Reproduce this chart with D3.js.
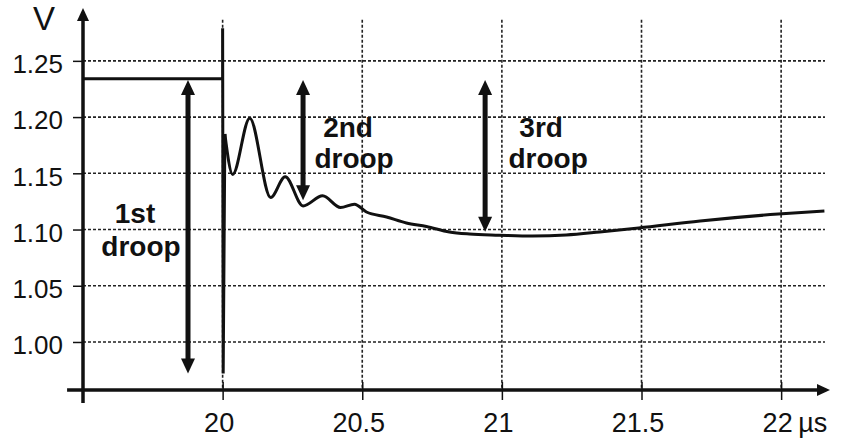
<!DOCTYPE html>
<html>
<head>
<meta charset="utf-8">
<script src="https://cdn.jsdelivr.net/npm/d3@7"></script>
<style>
  html, body { margin: 0; padding: 0; background: #fff; }
  svg { display: block; font-family: "Liberation Sans", Arial, Helvetica, sans-serif; }
</style>
</head>
<body>
<svg id="chart" width="845" height="441"></svg>
<script>
// ---------- data ----------
const xTicks = [20, 20.5, 21, 21.5, 22];
const xTickLabels = ["20", "20.5", "21", "21.5", "22"];
const yTicks = [1.00, 1.05, 1.10, 1.15, 1.20, 1.25];
const yTickLabels = ["1.00", "1.05", "1.10", "1.15", "1.20", "1.25"];
const xUnit = "\u00b5s";
const yUnit = "V";

// pre-step level and the fast spike at t = 20 µs
const stepT = [19.5, 20.0, 20.0, 20.002, 20.008];
const stepV = [1.234, 1.234, 1.279, 0.972, 1.185];

// ringing and slow recovery after the step
const waveT = [20.008, 20.036, 20.097, 20.172, 20.224, 20.288, 20.358, 20.422, 20.472,
               20.515, 20.587, 20.658, 20.73, 20.812, 20.884, 20.99, 21.11, 21.23,
               21.35, 21.49, 21.71, 21.99, 22.155];
const waveV = [1.185, 1.149, 1.199, 1.1285, 1.147, 1.121, 1.130, 1.1196, 1.1225,
               1.1156, 1.1112, 1.1058, 1.1027, 1.0978, 1.096, 1.095, 1.0942, 1.0951,
               1.0978, 1.1014, 1.1076, 1.1138, 1.1165];

// droop annotations
const droopNames = ["1st", "2nd", "3rd"];
const droopT = [19.876, 20.288, 20.94];
const droopTop = [1.233, 1.233, 1.233];
const droopBottom = [0.972, 1.126, 1.098];

// ---------- scales ----------
const svg = d3.select("#chart");
const x = d3.scaleLinear().domain([19.5, 22.175]).range([83, 830]);
const y = d3.scaleLinear().domain([0.9573, 1.297]).range([390, 8]);

const ink = "#111";
const gridTop = 1.2865, gridRight = 22.157, axisLeftT = 19.443, axisBottomV = 0.9457;

// ---------- grid ----------
const grid = svg.append("g").attr("stroke", "#222").attr("stroke-width", 1.6)
  .attr("stroke-dasharray", "3,2");
grid.selectAll("line.h").data(yTicks).enter().append("line")
  .attr("x1", x(19.5)).attr("x2", x(gridRight))
  .attr("y1", d => y(d)).attr("y2", d => y(d));
grid.selectAll("line.v").data(xTicks).enter().append("line")
  .attr("x1", d => x(d)).attr("x2", d => x(d))
  .attr("y1", y(gridTop)).attr("y2", y(y.domain()[0]));

// ---------- axes ----------
const yAxis = d3.axisLeft(y).tickValues(yTicks)
  .tickFormat((d, i) => yTickLabels[i]).tickSize(10).tickPadding(10);
const gy = svg.append("g").attr("transform", `translate(${x(19.5)},0)`).call(yAxis);
gy.select(".domain").remove();
gy.selectAll(".tick line").attr("stroke", ink).attr("stroke-width", 1.5);
gy.selectAll(".tick text").attr("font-size", 26).attr("fill", ink)
  .attr("font-family", "Liberation Sans, Arial, sans-serif").attr("dy", "0.45em");

const xAxis = d3.axisBottom(x).tickValues(xTicks)
  .tickFormat((d, i) => xTickLabels[i]).tickSize(10);
const gx = svg.append("g").attr("transform", `translate(0,${y(y.domain()[0])})`).call(xAxis);
gx.select(".domain").remove();
gx.selectAll(".tick line").attr("stroke", ink).attr("stroke-width", 1.5).attr("y1", -8);
gx.selectAll(".tick text").attr("font-size", 27).attr("fill", ink)
  .attr("font-family", "Liberation Sans, Arial, sans-serif")
  .attr("y", 42).attr("dy", 0).attr("dx", -4);

// axis lines with arrowheads
const axisG = svg.append("g");
axisG.append("line").attr("x1", x(axisLeftT)).attr("x2", x(x.domain()[1]) - 8)
  .attr("y1", y(y.domain()[0])).attr("y2", y(y.domain()[0]))
  .attr("stroke", ink).attr("stroke-width", 3.5);
axisG.append("path")
  .attr("d", `M${x(x.domain()[1])},${y(y.domain()[0])} l-13,-6 l0,12 z`).attr("fill", ink);
axisG.append("line").attr("x1", x(19.5)).attr("x2", x(19.5))
  .attr("y1", y(axisBottomV)).attr("y2", y(y.domain()[1]) + 8)
  .attr("stroke", ink).attr("stroke-width", 3.5);
axisG.append("path")
  .attr("d", `M${x(19.5)},${y(y.domain()[1])} l-6,13 l12,0 z`).attr("fill", ink);

// unit labels
svg.append("text").attr("x", x(19.5) - 39).attr("y", 30).attr("text-anchor", "middle")
  .attr("font-size", 33).attr("fill", ink).text(yUnit);
svg.append("text").attr("x", x(22) + 17).attr("y", 432).attr("text-anchor", "start")
  .attr("font-size", 27).attr("fill", ink).text(xUnit);

// ---------- waveform ----------
const stepData = stepT.map((t, i) => [t, stepV[i]]);
const waveData = waveT.map((t, i) => [t, waveV[i]]);
svg.append("path").datum(stepData)
  .attr("d", d3.line().x(d => x(d[0])).y(d => y(d[1])))
  .attr("fill", "none").attr("stroke", ink).attr("stroke-width", 3)
  .attr("stroke-linejoin", "miter");
svg.append("path").datum(waveData)
  .attr("d", d3.line().x(d => x(d[0])).y(d => y(d[1])).curve(d3.curveMonotoneX))
  .attr("fill", "none").attr("stroke", ink).attr("stroke-width", 3)
  .attr("stroke-linejoin", "round");

// ---------- droop arrows ----------
const arrows = svg.append("g").attr("fill", ink).attr("stroke", ink);
droopT.forEach((t, i) => {
  const ax = x(t), y1 = y(droopTop[i]), y2 = y(droopBottom[i]);
  arrows.append("line").attr("x1", ax).attr("x2", ax)
    .attr("y1", y1 + 10).attr("y2", y2 - 10).attr("stroke-width", 5);
  arrows.append("path").attr("stroke", "none")
    .attr("d", `M${ax},${y1} l-7,15 l14,0 z`);
  arrows.append("path").attr("stroke", "none")
    .attr("d", `M${ax},${y2} l-7,-15 l14,0 z`);
});

// droop labels
const labelPos = [
  {dx: [-53, -47], dy: [223, 256]},
  {dx: [45, 51], dy: [137, 168]},
  {dx: [56, 63], dy: [137, 168]}
];
const labels = svg.append("g").attr("font-size", 28).attr("font-weight", "bold")
  .attr("fill", ink).attr("text-anchor", "middle");
droopNames.forEach((n, i) => {
  const ax = x(droopT[i]);
  labels.append("text").attr("x", ax + labelPos[i].dx[0]).attr("y", labelPos[i].dy[0]).text(n);
  labels.append("text").attr("x", ax + labelPos[i].dx[1]).attr("y", labelPos[i].dy[1]).text("droop");
});
</script>
</body>
</html>
